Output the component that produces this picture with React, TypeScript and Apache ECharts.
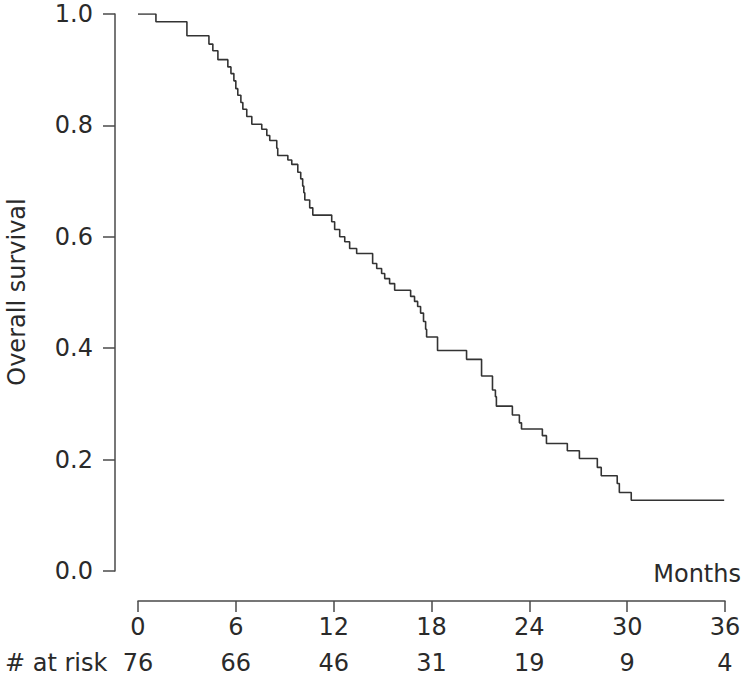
import React, { useEffect, useRef } from "react";
import * as echarts from "echarts";

// Kaplan–Meier step points: time (months) and survival after each drop
const months = [
  0, 1.1, 3.0, 4.35, 4.59, 4.9, 5.51, 5.7, 5.88, 6.0, 6.12, 6.31, 6.43, 6.67, 6.98,
  7.59, 7.9, 8.08, 8.51, 8.57, 9.19, 9.43, 9.8, 9.98, 10.1, 10.17, 10.23, 10.53, 10.72,
  11.88, 12.06, 12.37, 12.68, 12.98, 13.41, 14.39, 14.64, 14.94, 15.13, 15.43, 15.74,
  16.72, 16.96, 17.15, 17.33, 17.51, 17.64, 17.7, 18.37, 20.15, 21.07, 21.74, 21.92,
  21.98, 22.96, 23.39, 23.52, 24.8, 25.05, 26.33, 27.07, 28.17, 28.41, 29.39, 29.52,
  30.25, 35.95,
];
const survival = [
  1.0, 0.986, 0.961, 0.946, 0.934, 0.918, 0.905, 0.893, 0.88, 0.866, 0.854, 0.841, 0.829,
  0.816, 0.802, 0.793, 0.782, 0.773, 0.759, 0.746, 0.738, 0.73, 0.716, 0.704, 0.691,
  0.679, 0.666, 0.652, 0.639, 0.627, 0.613, 0.6, 0.591, 0.579, 0.57, 0.552, 0.543, 0.534,
  0.525, 0.516, 0.504, 0.493, 0.484, 0.475, 0.463, 0.448, 0.434, 0.42, 0.396, 0.38, 0.35,
  0.325, 0.313, 0.296, 0.28, 0.266, 0.255, 0.243, 0.229, 0.216, 0.202, 0.186, 0.171,
  0.157, 0.141, 0.127, 0.127,
];
const xTicks = [0, 6, 12, 18, 24, 30, 36];
const atRisk = [76, 66, 46, 31, 19, 9, 4];

const FONT = "'DejaVu Sans', 'Liberation Sans', Arial, sans-serif";
const TEXT = "#2a2a2a";
const AXIS = "#4a4a4a";

export default function App() {
  const ref = useRef<HTMLDivElement>(null);
  useEffect(() => {
    document.body.style.margin = "0";
    if (!ref.current) return;
    const chart = echarts.init(ref.current, undefined, { renderer: "svg" });
    const data = months.map((m, i) => [m, survival[i]]);
    const riskMap: Record<number, number> = {};
    xTicks.forEach((t, i) => (riskMap[t] = atRisk[i]));
    const axisCommon = {
      type: "value" as const,
      min: 0,
      max: 36,
      interval: 6,
      splitLine: { show: false },
    };
    chart.setOption({
      animation: false,
      textStyle: { fontFamily: FONT },
      grid: { left: 138, right: 20, top: 14, bottom: 110 },
      xAxis: [
        {
          ...axisCommon,
          position: "bottom",
          offset: 30,
          axisLine: { show: true, onZero: false, lineStyle: { color: AXIS, width: 1.5 } },
          axisTick: { show: true, length: 11, inside: false, lineStyle: { color: AXIS, width: 1.5 } },
          axisLabel: { margin: 14, fontSize: 24, color: TEXT, fontFamily: FONT },
        },
        {
          ...axisCommon,
          position: "bottom",
          offset: 30,
          axisLine: { show: false, onZero: false },
          axisTick: { show: false },
          axisLabel: {
            margin: 50,
            fontSize: 24,
            color: TEXT,
            fontFamily: FONT,
            formatter: (v: number) => String(riskMap[v] ?? ""),
          },
        },
      ],
      yAxis: {
        type: "value",
        min: 0,
        max: 1,
        interval: 0.2,
        offset: 23,
        splitLine: { show: false },
        axisLine: { show: true, onZero: false, lineStyle: { color: AXIS, width: 1.5 } },
        axisTick: { show: true, length: 12, inside: false, lineStyle: { color: AXIS, width: 1.5 } },
        axisLabel: {
          margin: 22,
          fontSize: 24,
          lineHeight: 20,
          color: TEXT,
          fontFamily: FONT,
          formatter: (v: number) => v.toFixed(1),
        },
      },
      graphic: [
        {
          type: "text",
          x: 17,
          y: 292,
          rotation: Math.PI / 2,
          style: {
            text: "Overall survival",
            fontSize: 24,
            fontFamily: FONT,
            fill: TEXT,
            align: "center",
            verticalAlign: "middle",
          },
        },
        {
          type: "text",
          right: 4,
          top: 562,
          style: { text: "Months", fontSize: 24, fontFamily: FONT, fill: TEXT },
        },
        {
          type: "text",
          left: 5,
          top: 651,
          style: { text: "# at risk", fontSize: 24, fontFamily: FONT, fill: TEXT },
        },
      ],
      series: [
        {
          type: "line",
          step: "end",
          xAxisIndex: 0,
          showSymbol: false,
          symbol: "none",
          data,
          lineStyle: { color: "#333", width: 1.6 },
        },
      ],
    });
    return () => chart.dispose();
  }, []);
  return <div ref={ref} style={{ width: 745, height: 681 }} />;
}
